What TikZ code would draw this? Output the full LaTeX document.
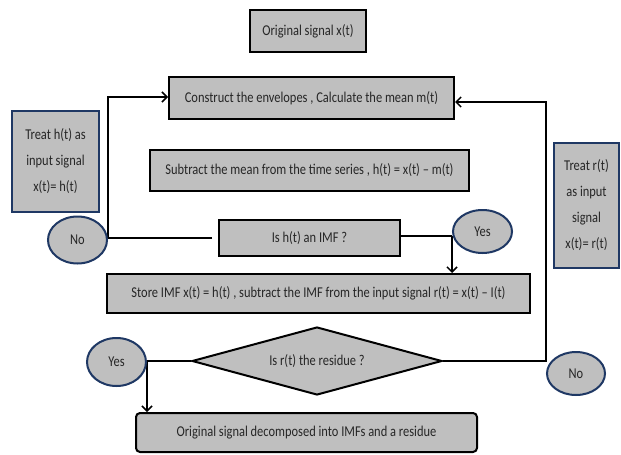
\documentclass[tikz,border=0pt]{standalone}
\usepackage{fontspec}
\setmainfont{Carlito}[FakeStretch=0.83]
\usepackage{tikz}
\usetikzlibrary{shapes,arrows.meta}
\definecolor{boxgray}{RGB}{191,191,191}
\definecolor{navy}{RGB}{31,56,100}
\pgfdeclarelayer{edgelayer}
\pgfdeclarelayer{nodelayer}
\pgfsetlayers{edgelayer,nodelayer,main}
\tikzstyle{process}=[rectangle,fill=boxgray,draw=black,line width=2,inner sep=0pt,text=black!85,font=\fontsize{15}{17}\selectfont]
\tikzstyle{terminal}=[process,rounded corners=4]
\tikzstyle{decision}=[diamond,aspect=3.68,fill=boxgray,draw=black,line width=2,inner sep=0pt,text=black!85,font=\fontsize{15}{17}\selectfont]
\tikzstyle{answer}=[ellipse,fill=boxgray,draw=navy,line width=2,inner sep=0pt,text=black!85,font=\fontsize{15}{17}\selectfont]
\tikzstyle{note}=[rectangle,fill=boxgray,draw=navy,line width=2,inner sep=0pt,align=center,text=black!85,font=\fontsize{15}{26}\selectfont]
\tikzstyle{simple}=[-,line width=1.5]
\tikzstyle{inarrow}=[-{Straight Barb[length=5pt,width=10pt]},line width=1.5]

\begin{document}
\begin{tikzpicture}[x=1pt,y=-1pt]
	\useasboundingbox (0,0) rectangle (621,455);
	\begin{pgfonlayer}{nodelayer}
		\node [style=process, minimum width=116, minimum height=42] (orig) at (308, 31) {Original signal x(t)};
		\node [style=process, minimum width=285, minimum height=42] (envel) at (311.5, 98) {Construct the envelopes , Calculate the mean m(t)};
		\node [style=process, minimum width=319, minimum height=41] (subtr) at (309.5, 170.5) {Subtract the mean from the time series , h(t) = x(t) – m(t)};
		\node [style=process, minimum width=181, minimum height=36] (isimf) at (309.5, 238) {Is h(t) an IMF ?};
		\node [style=process, minimum width=423, minimum height=39] (store) at (318.5, 293.5) {Store IMF x(t) = h(t) , subtract the IMF from the input signal r(t) = x(t) – I(t)};
		\node [style=decision, minimum width=250, minimum height=68] (isres) at (317, 361) {Is r(t) the residue ?};
		\node [style=terminal, minimum width=341, minimum height=39] (final) at (306.5, 432.5) {Original signal decomposed into IMFs and a residue};

		\node [style=note, minimum width=87, minimum height=101] (treath) at (55.5, 161.5) {Treat h(t) as\\input signal\\x(t)= h(t)};
		\node [style=note, minimum width=65, minimum height=125] (treatr) at (586.5, 205.5) {Treat r(t)\\as input\\signal\\x(t)= r(t)};

		\node [style=answer, minimum width=59, minimum height=47] (noimf) at (77.5, 240) {No};
		\node [style=answer, minimum width=59, minimum height=43] (yesimf) at (482.5, 231.5) {Yes};
		\node [style=answer, minimum width=59, minimum height=48] (yesres) at (116.5, 362) {Yes};
		\node [style=answer, minimum width=58, minimum height=43] (nores) at (576, 373.5) {No};
	\end{pgfonlayer}
	\begin{pgfonlayer}{edgelayer}
		\draw [style=simple, shorten <=6pt] (isimf.west) to (isimf.west -| noimf.east);
		\draw [style=inarrow] (isimf.west -| noimf.east) |- ([yshift=1pt]envel.west);
		\draw [style=simple] ([yshift=2pt]isimf.east) to ([yshift=2pt]isimf.east -| yesimf.west);
		\draw [style=inarrow] ([yshift=2pt]isimf.east -| yesimf.west) to (yesimf.west |- store.north);
		\draw [style=simple] (isres.west) to (isres.west -| yesres.east);
		\draw [style=inarrow] (isres.west -| yesres.east) to (yesres.east |- final.north);
		\draw [style=inarrow] (isres.east) to (isres.east -| nores.west) |- ([yshift=-4pt]envel.east);
	\end{pgfonlayer}
\end{tikzpicture}
\end{document}
